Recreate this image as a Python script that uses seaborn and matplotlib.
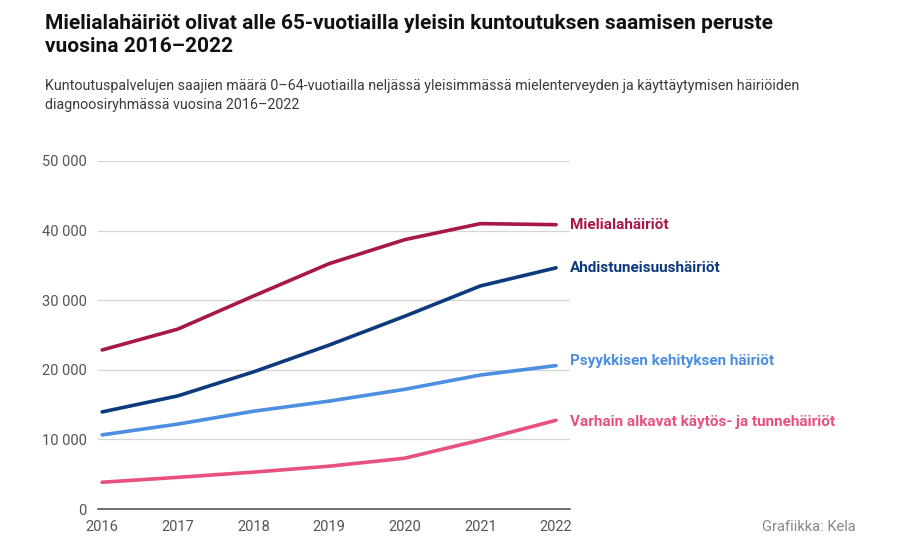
"""
Kuntoutuspalvelujen saajat diagnoosiryhmittäin 2016-2022
"""
import pandas as pd
import matplotlib.pyplot as plt
import matplotlib.ticker as mticker
import seaborn as sns

# Data (luettu kuvasta)
years = [2016, 2017, 2018, 2019, 2020, 2021, 2022]
mieliala = [22850, 25850, 30600, 35250, 38700, 41000, 40850]
ahdistus = [13950, 16250, 19700, 23550, 27700, 32050, 34650]
psyykkinen = [10650, 12200, 14050, 15500, 17200, 19250, 20600]
varhain = [3850, 4550, 5300, 6150, 7300, 9900, 12750]

series_names = [
    'Mielialahäiriöt',
    'Ahdistuneisuushäiriöt',
    'Psyykkisen kehityksen häiriöt',
    'Varhain alkavat käytös- ja tunnehäiriöt',
]
series_values = [mieliala, ahdistus, psyykkinen, varhain]
colors = ['#a8174a', '#0d3a7d', '#4c8ee0', '#e8507f']
label_dy = [0, 0, 3, -1]

rows = []
for name, vals in zip(series_names, series_values):
    for y, v in zip(years, vals):
        rows.append({'vuosi': y, 'saajat': v, 'ryhma': name})
df = pd.DataFrame(rows)

sns.set_style('white')
plt.rcParams['font.family'] = ['Roboto', 'DejaVu Sans']

fig = plt.figure(figsize=(9.04, 5.54), dpi=100)
ax = fig.add_axes([0.108, 0.0812, 0.523, 0.6282])

sns.lineplot(data=df, x='vuosi', y='saajat', hue='ryhma', hue_order=series_names,
             palette=colors, linewidth=2.6, legend=False, ax=ax)

ax.set_xlim(2015.94, 2022.19)
ax.set_ylim(0, 50000)
ax.set_yticks(range(0, 50001, 10000))
ax.yaxis.set_major_formatter(mticker.FuncFormatter(lambda v, p: f"{int(v):,}".replace(',', ' ')))
ax.set_xticks(years)
ax.grid(axis='y', color='#d4d4d4', linewidth=0.9)
ax.set_axisbelow(True)
for s in ['top', 'right', 'left']:
    ax.spines[s].set_visible(False)
ax.spines['bottom'].set_color('#555555')
ax.spines['bottom'].set_linewidth(1.2)
ax.tick_params(axis='x', direction='out', length=6, width=1.2, color='#555555',
               labelsize=10.5, labelcolor='#555555', pad=2)
ax.tick_params(axis='y', length=0, labelsize=10.5, labelcolor='#555555', pad=8)
ax.set_xlabel('')
ax.set_ylabel('')

for name, vals, c, dy in zip(series_names, series_values, colors, label_dy):
    ax.annotate(name, xy=(years[-1], vals[-1]), xytext=(10, dy), textcoords='offset points',
                ha='left', va='center', color=c, fontsize=11, fontweight='bold',
                annotation_clip=False)

fig.text(0.05, 0.975, 'Mielialahäiriöt olivat alle 65-vuotiailla yleisin kuntoutuksen saamisen peruste\nvuosina 2016–2022',
         ha='left', va='top', fontsize=15, fontweight='bold', color='#111111', linespacing=1.3)
fig.text(0.05, 0.858, 'Kuntoutuspalvelujen saajien määrä 0–64-vuotiailla neljässä yleisimmässä mielenterveyden ja käyttäytymisen häiriöiden\ndiagnoosiryhmässä vuosina 2016–2022',
         ha='left', va='top', fontsize=10.3, color='#3a3a3a', linespacing=1.45)
fig.text(0.843, 0.048, 'Grafiikka: Kela', ha='left', va='center', fontsize=10.5, color='#888888')

plt.savefig('out.png', dpi=100)
plt.close()
